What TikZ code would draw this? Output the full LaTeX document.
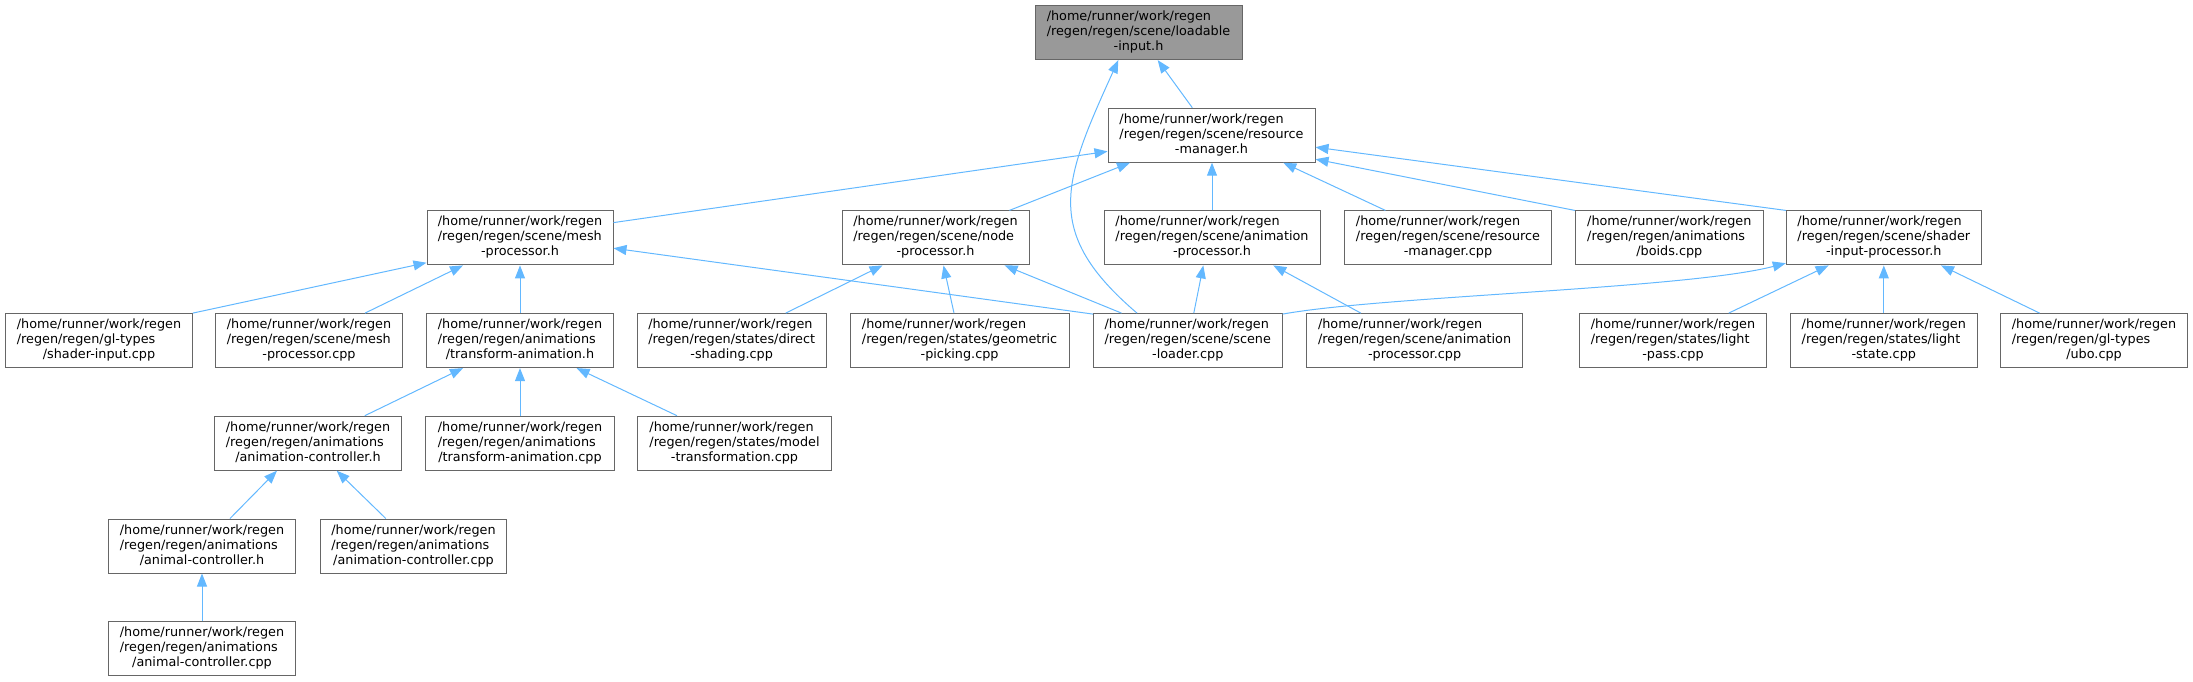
\documentclass[tikz,border=0pt]{standalone}
\usepackage{fontspec}
\setmainfont{DejaVu Sans}
\usetikzlibrary{arrows.meta,calc}
\definecolor{edgeblue}{HTML}{63B8FF}
\definecolor{boxgray}{HTML}{666666}
\definecolor{rootgray}{HTML}{999999}
\newcommand{\lbl}[2]{\begin{tabular}{@{}l@{}}/home/runner/work/regen\\#1\\\multicolumn{1}{@{}c@{}}{#2}\end{tabular}}
\tikzset{
  box/.style={draw=boxgray, line width=1pt, fill=white, minimum height=54pt, inner sep=0pt,
    font=\fontsize{12.8}{15}\selectfont},
  root/.style={box, fill=rootgray},
  edge/.style={draw=edgeblue, line width=1pt, -{Triangle[length=13pt,width=10pt,fill=edgeblue]}}
}
\begin{document}
\begin{tikzpicture}[x=1pt,y=1pt]
\useasboundingbox (0,0) rectangle (2193,-681);
% row 0
\node[root, minimum width=207] (loadable) at (1138.5,-32.6) {\lbl{/regen/regen/scene/loadable}{-input.h}};
% row 1
\node[box, minimum width=207] (resmgr) at (1211.5,-135.2) {\lbl{/regen/regen/scene/resource}{-manager.h}};
% row 2
\node[box, minimum width=186] (mesh) at (520,-237.9) {\lbl{/regen/regen/scene/mesh}{-processor.h}};
\node[box, minimum width=187] (nodeproc) at (935.5,-237.9) {\lbl{/regen/regen/scene/node}{-processor.h}};
\node[box, minimum width=216] (animproc) at (1212,-237.9) {\lbl{/regen/regen/scene/animation}{-processor.h}};
\node[box, minimum width=207] (resmgrcpp) at (1448,-237.9) {\lbl{/regen/regen/scene/resource}{-manager.cpp}};
\node[box, minimum width=188] (boids) at (1669.3,-237.9) {\lbl{/regen/regen/animations}{/boids.cpp}};
\node[box, minimum width=195] (shader) at (1883.8,-237.9) {\lbl{/regen/regen/scene/shader}{-input-processor.h}};
% row 3
\node[box, minimum width=186.6] (shaderinput) at (99,-340.6) {\lbl{/regen/regen/gl-types}{/shader-input.cpp}};
\node[box, minimum width=187] (meshcpp) at (309,-340.6) {\lbl{/regen/regen/scene/mesh}{-processor.cpp}};
\node[box, minimum width=186.5] (transanim) at (520,-340.6) {\lbl{/regen/regen/animations}{/transform-animation.h}};
\node[box, minimum width=189.4] (direct) at (731.7,-340.6) {\lbl{/regen/regen/states/direct}{-shading.cpp}};
\node[box, minimum width=219] (geom) at (959.6,-340.6) {\lbl{/regen/regen/states/geometric}{-picking.cpp}};
\node[box, minimum width=188.5] (sceneloader) at (1187.8,-340.6) {\lbl{/regen/regen/scene/scene}{-loader.cpp}};
\node[box, minimum width=216] (animproccpp) at (1414.6,-340.6) {\lbl{/regen/regen/scene/animation}{-processor.cpp}};
\node[box, minimum width=187] (lightpass) at (1673,-340.6) {\lbl{/regen/regen/states/light}{-pass.cpp}};
\node[box, minimum width=186.4] (lightstate) at (1883.8,-340.6) {\lbl{/regen/regen/states/light}{-state.cpp}};
\node[box, minimum width=186.4] (ubo) at (2094,-340.6) {\lbl{/regen/regen/gl-types}{/ubo.cpp}};
% row 4
\node[box, minimum width=186.6] (animctrlh) at (308,-443.2) {\lbl{/regen/regen/animations}{/animation-controller.h}};
\node[box, minimum width=188.7] (transanimcpp) at (520,-443.2) {\lbl{/regen/regen/animations}{/transform-animation.cpp}};
\node[box, minimum width=193.6] (modeltrans) at (734.5,-443.2) {\lbl{/regen/regen/states/model}{-transformation.cpp}};
% row 5
\node[box, minimum width=186.6] (animalctrlh) at (202,-546) {\lbl{/regen/regen/animations}{/animal-controller.h}};
\node[box, minimum width=186] (animctrlcpp) at (413.5,-546) {\lbl{/regen/regen/animations}{/animation-controller.cpp}};
% row 6
\node[box, minimum width=186.6] (animalctrlcpp) at (202,-648.5) {\lbl{/regen/regen/animations}{/animal-controller.cpp}};

% edges to loadable-input.h
\draw[edge] ([xshift=-19.2pt]resmgr.north) -- ([xshift=19.2pt]loadable.south);
\draw[edge] ([xshift=-50.8pt]sceneloader.north) .. controls (1042,-232) and (1063,-182) .. ([xshift=-20.2pt]loadable.south);
% edges to resource-manager.h
\draw[edge] ([yshift=15.3pt]mesh.east) -- ([yshift=-16.2pt]resmgr.west);
\draw[edge] ([xshift=73.9pt]nodeproc.north) -- ([xshift=-81.5pt]resmgr.south);
\draw[edge] (animproc.north) -- (animproc.north |- resmgr.south);
\draw[edge] ([xshift=-62.6pt]resmgrcpp.north) -- ([xshift=71.8pt]resmgr.south);
\draw[edge] (boids.north west) -- ([yshift=-24pt]resmgr.east);
\draw[edge] (shader.north west) -- ([yshift=-12pt]resmgr.east);
% edges to mesh-processor.h
\draw[edge] (shaderinput.north east) -- ([yshift=-24.8pt]mesh.west);
\draw[edge] ([xshift=56pt]meshcpp.north) -- ([xshift=-57pt]mesh.south);
\draw[edge] (transanim.north) -- (mesh.south);
\draw[edge] ([yshift=-1pt]sceneloader.north west) -- ([yshift=-10.3pt]mesh.east);
% edges to node-processor.h
\draw[edge] ([xshift=54pt]direct.north) -- ([xshift=-53pt]nodeproc.south);
\draw[edge] ([xshift=-5.6pt]geom.north) -- ([xshift=8pt]nodeproc.south);
\draw[edge] ([xshift=-66.3pt]sceneloader.north) -- ([xshift=69.1pt]nodeproc.south);
% edges to animation-processor.h
\draw[edge] ([xshift=6pt]sceneloader.north) -- ([xshift=-8.7pt]animproc.south);
\draw[edge] ([xshift=-53.8pt]animproccpp.north) -- ([xshift=61.3pt]animproc.south);
% edges to shader-input-processor.h
\draw[edge] ([yshift=-1pt]sceneloader.north east) .. controls (1382,-296) and (1686,-289) .. ([yshift=-25.3pt]shader.west);
\draw[edge] ([xshift=55.7pt]lightpass.north) -- ([xshift=-55.2pt]shader.south);
\draw[edge] (lightstate.north) -- (shader.south);
\draw[edge] ([xshift=-54.4pt]ubo.north) -- ([xshift=57.2pt]shader.south);
% edges to transform-animation.h
\draw[edge] ([xshift=56.8pt]animctrlh.north) -- ([xshift=-57pt]transanim.south);
\draw[edge] (transanimcpp.north) -- (transanim.south);
\draw[edge] ([xshift=-57.5pt]modeltrans.north) -- ([xshift=56.6pt]transanim.south);
% edges to animation-controller.h
\draw[edge] ([xshift=28pt]animalctrlh.north) -- ([xshift=-31pt]animctrlh.south);
\draw[edge] ([xshift=-27.7pt]animctrlcpp.north) -- ([xshift=28.7pt]animctrlh.south);
% edge to animal-controller.h
\draw[edge] (animalctrlcpp.north) -- (animalctrlh.south);
\end{tikzpicture}
\end{document}
